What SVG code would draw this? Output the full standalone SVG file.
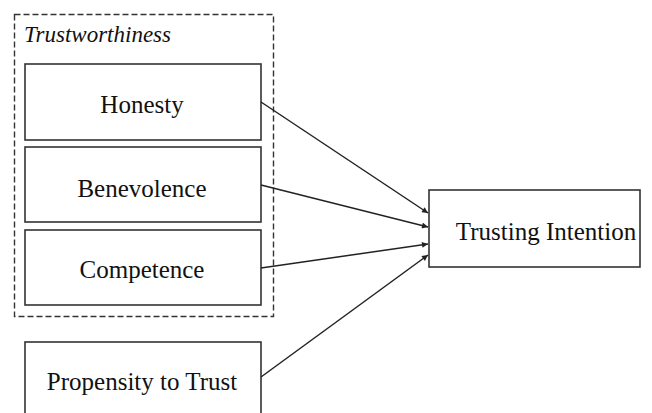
<svg xmlns="http://www.w3.org/2000/svg" width="652" height="413" viewBox="0 0 652 413">
  <style>
    .box { fill: #ffffff; stroke: #333333; stroke-width: 1.6; }
    .group { fill: none; stroke: #333333; stroke-width: 1.4; stroke-dasharray: 6 3; }
    .label { font-family: "Liberation Serif", "Times New Roman", serif; font-size: 25px; fill: #111111; text-anchor: middle; }
    .title { font-family: "Liberation Serif", "Times New Roman", serif; font-size: 23px; font-style: italic; fill: #111111; }
    .edge { stroke: #222222; stroke-width: 1.5; fill: none; marker-end: url(#arrow); }
  </style>
  <defs>
    <marker id="arrow" viewBox="0 0 10 10" refX="10" refY="5" markerWidth="7" markerHeight="6" markerUnits="userSpaceOnUse" orient="auto">
      <path d="M0,0 L10,5 L0,10 z" fill="#222222"/>
    </marker>
  </defs>
  <rect width="652" height="413" fill="#ffffff"/>

  <g id="trustworthiness">
    <rect class="group" x="14.5" y="14.5" width="259" height="302"/>
    <text class="title" x="24" y="42">Trustworthiness</text>
  </g>

  <g id="honesty">
    <rect class="box" x="25" y="64" width="236" height="76"/>
    <text class="label" x="142" y="113">Honesty</text>
  </g>

  <g id="benevolence">
    <rect class="box" x="25" y="147" width="236" height="75"/>
    <text class="label" x="142" y="197">Benevolence</text>
  </g>

  <g id="competence">
    <rect class="box" x="25" y="230" width="236" height="75"/>
    <text class="label" x="142" y="278">Competence</text>
  </g>

  <g id="propensity">
    <rect class="box" x="25" y="342" width="236" height="80"/>
    <text class="label" x="142" y="390">Propensity to Trust</text>
  </g>

  <g id="trusting-intention">
    <rect class="box" x="429" y="190" width="211" height="77"/>
    <text class="label" x="546" y="240">Trusting Intention</text>
  </g>

  <g id="connectors">
    <line class="edge" x1="261" y1="102" x2="428" y2="213"/>
    <line class="edge" x1="261" y1="185" x2="428" y2="227"/>
    <line class="edge" x1="261" y1="268" x2="428" y2="244"/>
    <line class="edge" x1="261" y1="377" x2="428" y2="255"/>
  </g>
</svg>
